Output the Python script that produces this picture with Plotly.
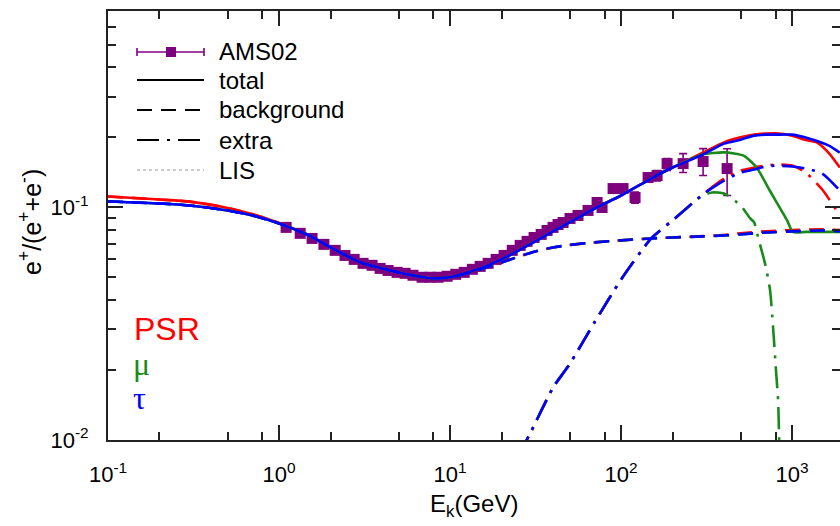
import plotly.graph_objects as go

# ---------------- data ----------------
# AMS02 positron fraction
ams_E = [1.10, 1.33, 1.56, 1.83, 2.13, 2.43, 2.75, 3.10, 3.50, 3.90, 4.34, 4.90, 5.46, 6.07,
         6.86, 7.64, 8.51, 9.61, 10.8, 12.1, 13.5, 15.0, 16.7, 18.6, 20.7, 23.1, 25.7, 28.2,
         31.0, 34.1, 36.9, 40.0, 42.8, 45.8, 50.3, 56.0, 64.1, 72.4, 77.4, 89.8, 102.7, 120.7,
         143.9, 162.4, 185.8, 230.5, 301.7, 416.8]
ams_frac = [0.0821, 0.0774, 0.0736, 0.0694, 0.0654, 0.0622, 0.0598, 0.0575, 0.0564, 0.0547,
            0.0536, 0.0526, 0.0521, 0.0511, 0.0501, 0.0501, 0.0501, 0.0506, 0.0516, 0.0526,
            0.0542, 0.0558, 0.0575, 0.0598, 0.0622, 0.0654, 0.0687, 0.0715, 0.0743, 0.0766,
            0.0796, 0.0821, 0.0845, 0.0862, 0.0897, 0.0924, 0.0971, 0.1051, 0.1000, 0.1206,
            0.1206, 0.1104, 0.1345, 0.1372, 0.1544, 0.1544, 0.1576, 0.1470]
ams_err_up = [0.0005] * 18 + [0.0006] * 16 + [0.001, 0.0015, 0.002, 0.0025, 0.003, 0.004,
                                              0.005, 0.006, 0.006, 0.007, 0.008, 0.016, 0.0215, 0.032]
ams_err_dn = [0.0005] * 18 + [0.0006] * 16 + [0.001, 0.0015, 0.002, 0.0025, 0.003, 0.004,
                                              0.005, 0.006, 0.006, 0.007, 0.010, 0.013, 0.0204, 0.0344]

# total
E_tot = [0.1, 0.2, 0.3, 0.5, 0.7, 1, 1.5, 2, 3, 4, 5, 6, 7, 8, 10, 15, 20, 30, 40, 50, 70, 100,
         150, 200, 300, 400, 500, 600, 700, 800, 1000, 1200, 1400, 1650, 1900]
tot_tau = [0.1061, 0.1040, 0.1020, 0.0971, 0.0924, 0.0854, 0.0758, 0.0673, 0.0580, 0.0547,
           0.0526, 0.0511, 0.0501, 0.0496, 0.0501, 0.0547, 0.0598, 0.0701, 0.0789, 0.0862,
           0.0990, 0.1126, 0.1332, 0.1485, 0.1688, 0.1882, 0.1957, 0.2037, 0.2057, 0.2057,
           0.2057, 0.1998, 0.1930, 0.1840, 0.1722]
tot_psr = [0.1115, 0.1082, 0.1060, 0.0995, 0.0935, 0.0858, 0.0758, 0.0673, 0.0580, 0.0547,
           0.0526, 0.0511, 0.0501, 0.0496, 0.0501, 0.0547, 0.0598, 0.0701, 0.0789, 0.0862,
           0.0990, 0.1126, 0.1332, 0.1485, 0.1720, 0.1906, 0.2002, 0.2057, 0.2080, 0.2086,
           0.2037, 0.1950, 0.1900, 0.1705, 0.1485]
E_tot_mu = [0.1, 0.2, 0.3, 0.5, 0.7, 1, 1.5, 2, 3, 4, 5, 6, 7, 8, 10, 15, 20, 30, 40, 50, 70,
            100, 150, 200, 300, 400, 520, 620, 740, 935, 1010, 1200, 1500, 1900]
tot_mu = [0.1061, 0.1040, 0.1020, 0.0971, 0.0924, 0.0854, 0.0758, 0.0673, 0.0580, 0.0547,
          0.0526, 0.0511, 0.0501, 0.0496, 0.0501, 0.0547, 0.0598, 0.0701, 0.0789, 0.0862,
          0.0990, 0.1126, 0.1332, 0.1485, 0.1690, 0.1726, 0.1670, 0.1485, 0.1183, 0.0880,
          0.0785, 0.0785, 0.0785, 0.0785]

# background
E_bg = [0.1, 0.2, 0.3, 0.5, 0.7, 1, 1.5, 2, 3, 4, 5, 6, 7, 8, 10, 15, 20, 30, 40, 50, 70, 100,
        150, 200, 300, 400, 500, 700, 1000, 1500, 1900]
bg_tau = [0.1061, 0.1040, 0.1020, 0.0971, 0.0924, 0.0854, 0.0758, 0.0673, 0.0580, 0.0547,
          0.0526, 0.0511, 0.0501, 0.0496, 0.0500, 0.0540, 0.0580, 0.0641, 0.0673, 0.0690,
          0.0708, 0.0722, 0.0736, 0.0743, 0.0751, 0.0758, 0.0766, 0.0781, 0.0789, 0.0796, 0.0789]
bg_psr = [0.1115, 0.1082, 0.1060, 0.0995, 0.0935, 0.0858, 0.0758, 0.0673, 0.0580, 0.0547,
          0.0526, 0.0511, 0.0501, 0.0496, 0.0500, 0.0540, 0.0580, 0.0641, 0.0673, 0.0690,
          0.0708, 0.0722, 0.0736, 0.0743, 0.0753, 0.0762, 0.0775, 0.0790, 0.0800, 0.0805, 0.0800]
bg_mu = bg_tau

# extra
E_ex = [25, 30, 40, 50, 70, 100, 150, 200, 300, 400, 500, 600, 700, 800, 1000, 1200, 1500, 1900]
ex_psr = [0.0085, 0.0110, 0.0168, 0.0212, 0.0321, 0.0490, 0.0736, 0.0880, 0.1137, 0.1332,
          0.1441, 0.1485, 0.1514, 0.1529, 0.1514, 0.1413, 0.1195, 0.0924]
ex_tau = [0.0085, 0.0110, 0.0168, 0.0212, 0.0321, 0.0490, 0.0736, 0.0880, 0.1137, 0.1305,
          0.1413, 0.1456, 0.1500, 0.1514, 0.1500, 0.1470, 0.1400, 0.1183]
E_ex_mu = [25, 30, 40, 50, 70, 100, 150, 200, 300, 340, 400, 500, 567, 600, 624, 700, 743,
           774, 805, 828, 840, 850]
ex_mu = [0.0085, 0.0110, 0.0168, 0.0212, 0.0321, 0.0490, 0.0736, 0.0880, 0.1125, 0.1160,
         0.1148, 0.1020, 0.0900, 0.0862, 0.0774, 0.0560, 0.0441, 0.0305, 0.0199, 0.0148,
         0.0100, 0.0070]

# axis ticks
x_major = [0.1, 1, 10, 100, 1000]
x_major_text = ["10<sup>-1</sup>", "10<sup>0</sup>", "10<sup>1</sup>", "10<sup>2</sup>", "10<sup>3</sup>"]
x_minor = [0.2, 0.5, 0.8, 2, 5, 8, 20, 50, 80, 200, 500, 800]
y_major = [0.01, 0.1]
y_major_text = ["10<sup>-2</sup>", "10<sup>-1</sup>"]
y_minor = [0.02, 0.03, 0.04, 0.05, 0.06, 0.07, 0.08, 0.09, 0.2, 0.3, 0.4, 0.5, 0.6]

legend_labels = ["AMS02", "total", "background", "extra", "LIS"]
model_labels = ["PSR", "μ", "τ"]
x_title = "E<sub>k</sub>(GeV)"
y_title = "e<sup>+</sup>/(e<sup>+</sup>+e<sup>-</sup>)"

# ---------------- styles ----------------
RED = "#ff0000"
GREEN = "#1a8a1a"
BLUE = "#0000ff"
PURPLE = "#7f007f"
FONT = "Liberation Sans, Arial, Helvetica, sans-serif"
DASH_BG = "15px,9px"
DASH_EX = "22px,8px,3px,8px"
LW = 2.6

fig = go.Figure()

fig.add_trace(go.Scatter(
    x=ams_E, y=ams_frac, mode="markers",
    marker=dict(symbol="square", size=11, color=PURPLE, line=dict(width=0)),
    error_y=dict(type="data", symmetric=False, array=ams_err_up, arrayminus=ams_err_dn,
                 color=PURPLE, thickness=1.6, width=4),
    showlegend=False))

series = [
    (E_tot, tot_psr, RED, "solid"), (E_bg, bg_psr, RED, DASH_BG), (E_ex, ex_psr, RED, DASH_EX),
    (E_tot_mu, tot_mu, GREEN, "solid"), (E_bg, bg_mu, GREEN, DASH_BG), (E_ex_mu, ex_mu, GREEN, DASH_EX),
    (E_tot, tot_tau, BLUE, "solid"), (E_bg, bg_tau, BLUE, DASH_BG), (E_ex, ex_tau, BLUE, DASH_EX),
]
for xs, ys, col, dash in series:
    fig.add_trace(go.Scatter(x=xs, y=ys, mode="lines", line=dict(color=col, width=LW, dash=dash,
                                                                  shape="spline", smoothing=0.6),
                             showlegend=False))

# ---------------- layout ----------------
L, R, T, B = 108, 840, 11, 440
W, H = 840, 526


def px(x):
    return (x - L) / (R - L)


def py(y):
    return (B - y) / (B - T)


axis_common = dict(
    type="log", showgrid=False, zeroline=False, showline=True, linecolor="#222222", linewidth=2,
    ticks="inside", ticklen=15, tickwidth=1.5, tickcolor="#222222", mirror="allticks",
    tickfont=dict(family=FONT, size=22, color="black"),
)

fig.update_layout(
    width=W, height=H, margin=dict(l=L, r=W - R, t=T, b=H - B, autoexpand=False),
    paper_bgcolor="white", plot_bgcolor="white", showlegend=False,
    font=dict(family=FONT, size=20, color="black"),
    xaxis=dict(axis_common, range=[-1, 3.28], tickmode="array", tickvals=x_major, ticktext=x_major_text,
               ticklabelstandoff=14,
               minor=dict(tickmode="array", tickvals=x_minor, ticks="inside", ticklen=8, tickwidth=1.5,
                          tickcolor="#222222")),
    yaxis=dict(axis_common, range=[-2, -0.155], tickmode="array", tickvals=y_major, ticktext=y_major_text,
               ticklabelstandoff=13,
               minor=dict(tickmode="array", tickvals=y_minor, ticks="inside", ticklen=8, tickwidth=1.5,
                          tickcolor="#222222")),
)

# custom key (legend) in the top-left corner
rows = [52, 80, 110, 140, 170]
x0, x1, xt = 137, 204, 217
shapes = []
shapes.append(dict(type="line", xref="paper", yref="paper", x0=px(x0), x1=px(x1), y0=py(rows[0]), y1=py(rows[0]),
                   line=dict(color=PURPLE, width=1.6)))
for xc in (x0, x1):
    shapes.append(dict(type="line", xref="paper", yref="paper", x0=px(xc), x1=px(xc),
                       y0=py(rows[0] - 4), y1=py(rows[0] + 4), line=dict(color=PURPLE, width=1.6)))
shapes.append(dict(type="rect", xref="paper", yref="paper", x0=px(166), x1=px(176),
                   y0=py(rows[0] + 5), y1=py(rows[0] - 5), fillcolor=PURPLE, line=dict(width=0)))
for r, dash, col, w in [(rows[1], "solid", "black", 2.2), (rows[2], DASH_BG, "black", 2.2),
                        (rows[3], DASH_EX, "black", 2.2), (rows[4], "dot", "#999999", 1)]:
    shapes.append(dict(type="line", xref="paper", yref="paper", x0=px(x0), x1=px(x1), y0=py(r), y1=py(r),
                       line=dict(color=col, width=w, dash=dash)))
fig.update_layout(shapes=shapes)

ann = []
for lab, r in zip(legend_labels, rows):
    ann.append(dict(text=lab, xref="paper", yref="paper", x=px(xt), y=py(r), xanchor="left", yanchor="middle",
                    showarrow=False, font=dict(family=FONT, size=24, color="black")))
ann.append(dict(text=model_labels[0], xref="paper", yref="paper", x=px(132), y=py(329), xanchor="left",
                yanchor="middle", showarrow=False, font=dict(family=FONT, size=32, color=RED)))
ann.append(dict(text=model_labels[1], xref="paper", yref="paper", x=px(131), y=py(364), xanchor="left",
                yanchor="middle", showarrow=False, font=dict(family="Liberation Serif, serif", size=32, color=GREEN)))
ann.append(dict(text=model_labels[2], xref="paper", yref="paper", x=px(131), y=py(398), xanchor="left",
                yanchor="middle", showarrow=False, font=dict(family="Liberation Serif, serif", size=32, color=BLUE)))
# axis titles
ann.append(dict(text=x_title, xref="paper", yref="paper", x=px(474), y=py(505), xanchor="center",
                yanchor="middle", showarrow=False, font=dict(family=FONT, size=24, color="black")))
ann.append(dict(text=y_title, xref="paper", yref="paper", x=px(30), y=py(222), xanchor="center",
                yanchor="middle", textangle=-90, showarrow=False, font=dict(family=FONT, size=25, color="black")))
fig.update_layout(annotations=ann)

fig.write_html("out.html", config={"displayModeBar": False},
               post_script="document.body.style.margin='0px';document.body.style.overflow='hidden';")
